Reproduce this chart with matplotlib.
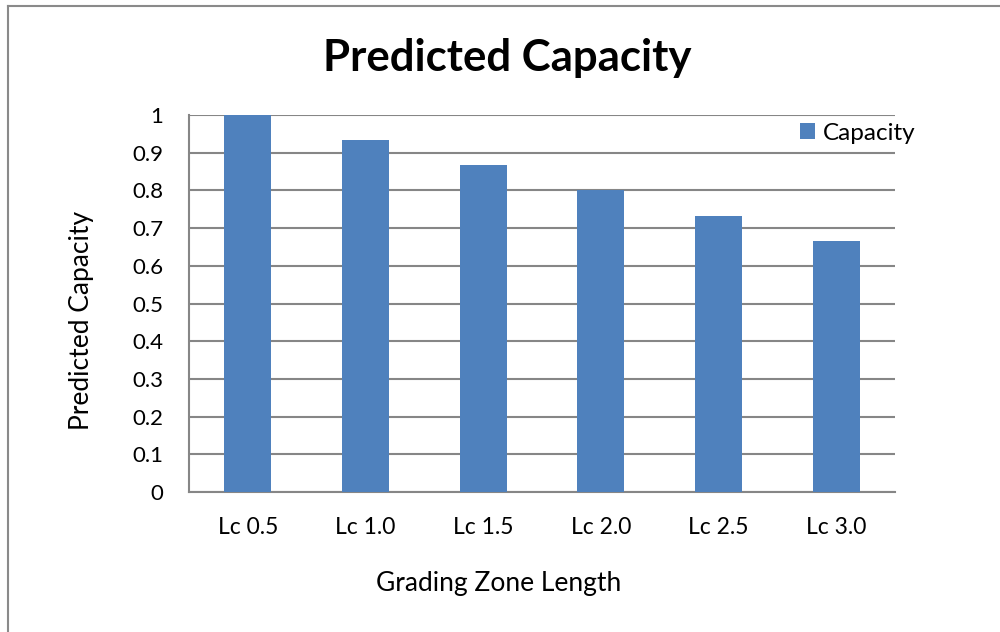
import matplotlib
matplotlib.use("Agg")
import matplotlib.pyplot as plt
from matplotlib.lines import Line2D
from matplotlib.patches import Patch

categories = ["Lc 0.5", "Lc 1.0", "Lc 1.5", "Lc 2.0", "Lc 2.5", "Lc 3.0"]
capacity = [1.0, 0.933, 0.867, 0.8, 0.733, 0.667]
y_ticks = [0, 0.1, 0.2, 0.3, 0.4, 0.5, 0.6, 0.7, 0.8, 0.9, 1.0]
y_tick_labels = ["0", "0.1", "0.2", "0.3", "0.4", "0.5", "0.6", "0.7", "0.8", "0.9", "1"]

BAR = "#4f81bd"
GRID = "#868686"
FONT = "Lato"

W, H = 1000, 632
fig = plt.figure(figsize=(W / 100, H / 100), dpi=100)
fig.patch.set_facecolor("white")

# plot area in pixel coordinates
left, right, top, bottom = 189, 895, 115, 492
ax = fig.add_axes([left / W, 1 - bottom / H, (right - left) / W, (bottom - top) / H])

x = list(range(len(categories)))
ax.bar(x, capacity, width=0.4, color=BAR, zorder=3)
ax.set_xlim(-0.5, len(categories) - 0.5)
ax.set_ylim(0, 1)

ax.set_yticks(y_ticks)
ax.set_yticklabels(y_tick_labels, fontsize=16, fontfamily=FONT)
ax.set_xticks(x)
ax.set_xticklabels(categories, fontsize=16.5, fontfamily=FONT)
ax.tick_params(axis="both", length=0, colors="black")
ax.tick_params(axis="y", pad=18.5)
ax.tick_params(axis="x", pad=18)

ax.yaxis.grid(True, color=GRID, linewidth=1.5, zorder=0)
for s in ["top", "right"]:
    ax.spines[s].set_visible(False)
for s in ["left", "bottom"]:
    ax.spines[s].set_color(GRID)
    ax.spines[s].set_linewidth(1.5)

ph = bottom - top
pw = right - left
ax.set_xlabel("Grading Zone Length", fontsize=19, fontfamily=FONT, va="center")
ax.xaxis.set_label_coords((499 - left) / pw, -(583 - bottom) / ph)
ax.set_ylabel("Predicted Capacity", fontsize=19, fontfamily=FONT, va="center")
ax.yaxis.set_label_coords(-(left - 82) / pw, (bottom - 320) / ph)

fig.text(507 / W, 1 - 58 / H, "Predicted Capacity", ha="center", va="center",
         fontsize=31.5, fontweight="bold", fontfamily=FONT)

leg = ax.legend(handles=[Patch(facecolor=BAR, label="Capacity")],
                loc="center left", bbox_to_anchor=((788 - left) / pw, (bottom - 133) / ph),
                frameon=False, prop={"family": FONT, "size": 17.5},
                handlelength=0.6, handleheight=0.6, handletextpad=0.35, borderpad=0)
leg.set_zorder(5)

# outer chart frame
fig.add_artist(Line2D([7.5 / W, 7.5 / W], [0, 1 - 6 / H], transform=fig.transFigure,
                      color="#8a8a8a", linewidth=1.5))
fig.add_artist(Line2D([7.5 / W, 1], [1 - 6 / H, 1 - 6 / H], transform=fig.transFigure,
                      color="#8a8a8a", linewidth=1.5))

fig.savefig("out.png", dpi=100)
